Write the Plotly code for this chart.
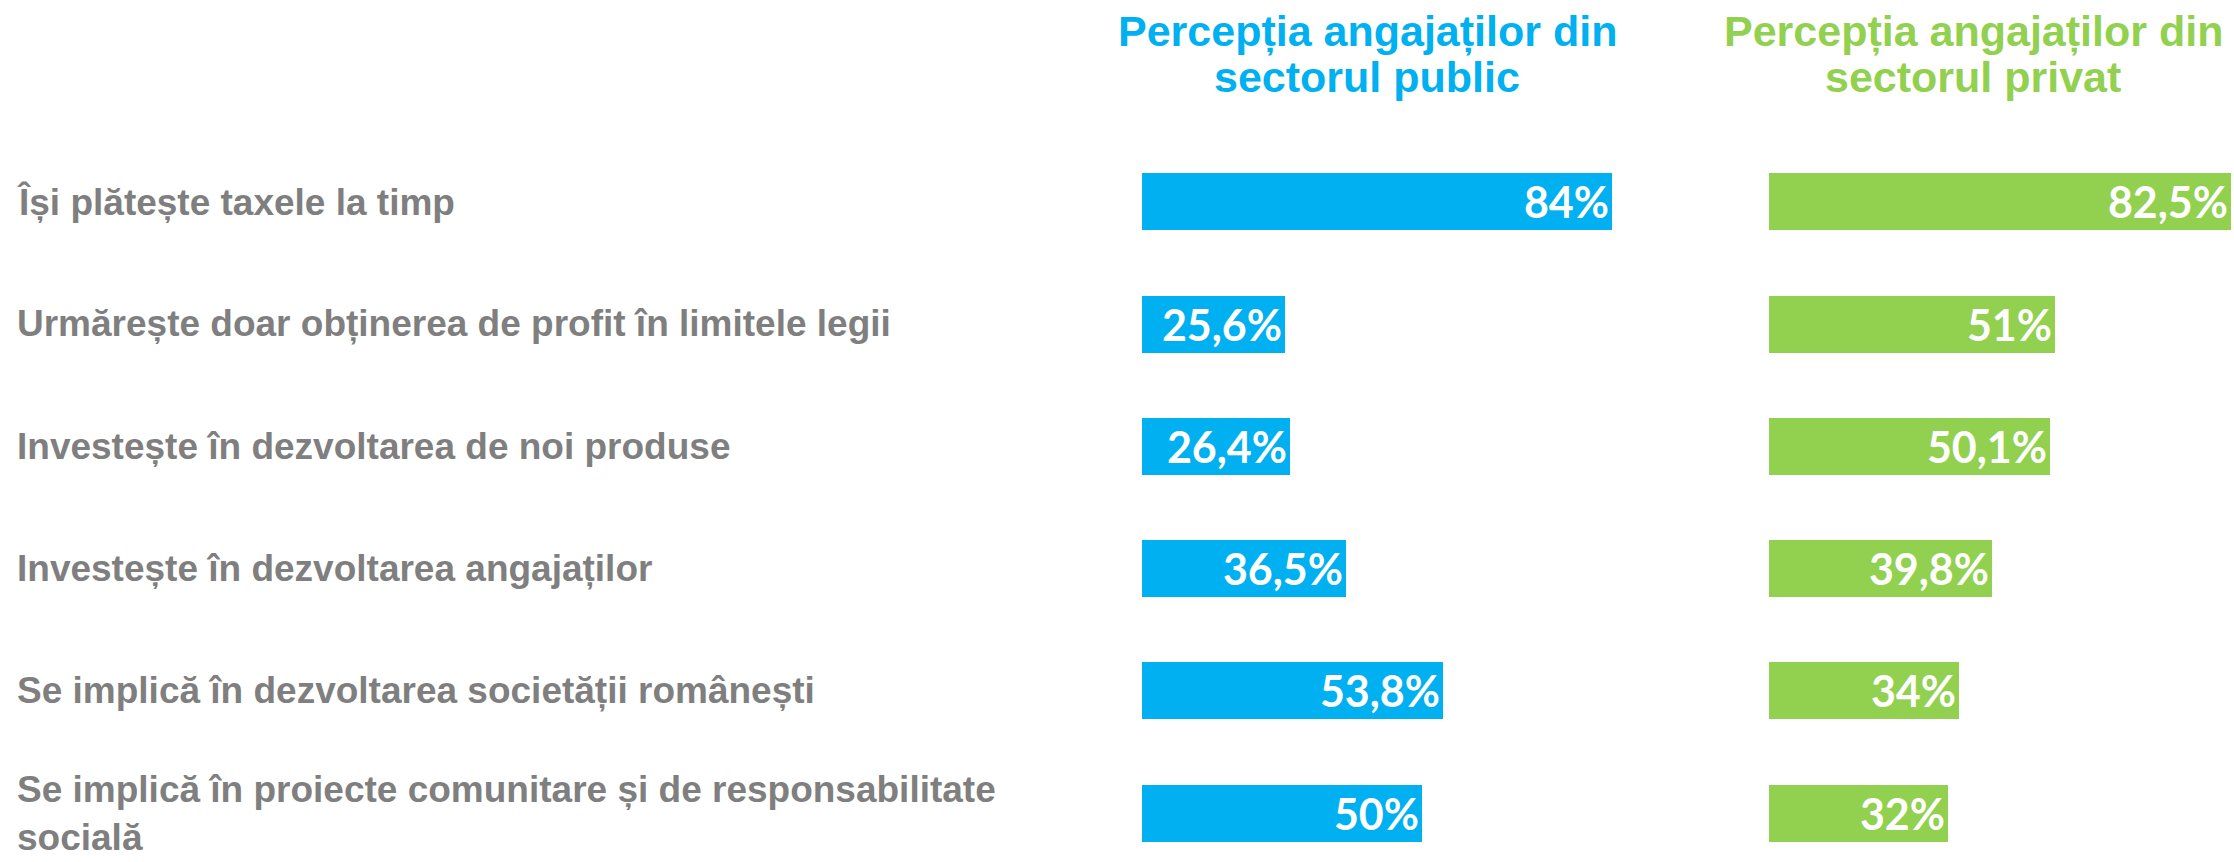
import plotly.graph_objects as go
from plotly.subplots import make_subplots

categories = [
    "Își plătește taxele la timp",
    "Urmărește doar obținerea de profit în limitele legii",
    "Investește în dezvoltarea de noi produse",
    "Investește în dezvoltarea angajaților",
    "Se implică în dezvoltarea societății românești",
    "Se implică în proiecte comunitare și de responsabilitate<br>socială",
]
public_values = [84, 25.6, 26.4, 36.5, 53.8, 50]
private_values = [82.5, 51, 50.1, 39.8, 34, 32]
public_title = ["Percepția angajaților din", "sectorul public"]
private_title = ["Percepția angajaților din", "sectorul privat"]

BLUE = "#00B0F0"
GREEN = "#92D050"
GREY = "#7F7F7F"
W, H = 2234, 862


def fmt(v):
    s = ("%g" % v).replace(".", ",")
    return s + "%"


fig = make_subplots(rows=1, cols=2, shared_yaxes=True)

label_font = dict(family="Lato, 'Open Sans', sans-serif", size=43, color="white", weight=700)

fig.add_trace(go.Bar(
    y=categories, x=public_values, orientation="h",
    marker=dict(color=BLUE, line=dict(width=0)),
    width=0.466,
    text=[fmt(v) for v in public_values],
    textposition="inside", insidetextanchor="end", constraintext="none",
    textfont=label_font, hoverinfo="skip", showlegend=False,
), row=1, col=1)

fig.add_trace(go.Bar(
    y=categories, x=private_values, orientation="h",
    marker=dict(color=GREEN, line=dict(width=0)),
    width=0.466,
    text=[fmt(v) for v in private_values],
    textposition="inside", insidetextanchor="end", constraintext="none",
    textfont=label_font, hoverinfo="skip", showlegend=False,
), row=1, col=2)

axis_hidden = dict(showgrid=False, zeroline=False, showticklabels=False,
                   showline=False, ticks="")

fig.update_xaxes(axis_hidden)
fig.update_yaxes(axis_hidden)
fig.update_xaxes(domain=[1142 / W, 1702 / W], range=[0, 100], row=1, col=1)
fig.update_xaxes(domain=[1769 / W, 1.0], range=[0, 83], row=1, col=2)
fig.update_yaxes(type="category", categoryorder="array", categoryarray=categories,
                 range=[5.40, -1.65], domain=[0, 1])

annotations = []
# category labels
for c in categories:
    annotations.append(dict(
        x=15 / W, xref="paper", xanchor="left",
        y=c, yref="y", yanchor="middle",
        text=c, showarrow=False, align="left",
        font=dict(family="'Liberation Sans', Arial, sans-serif", size=37,
                  color=GREY, weight=700),
    ))

# column titles
title_font = dict(family="'Liberation Sans', Arial, sans-serif", size=43, weight=700)
for title, color, cx in [(public_title, BLUE, 1367), (private_title, GREEN, 1973)]:
    for i, line in enumerate(title):
        annotations.append(dict(
            x=cx / W, xref="paper", xanchor="center",
            y=1 - (31 + 46 * i) / H, yref="paper", yanchor="middle",
            text=line, showarrow=False,
            font=dict(title_font, color=color),
        ))

fig.update_layout(
    width=W, height=H,
    margin=dict(l=0, r=0, t=0, b=0),
    paper_bgcolor="white", plot_bgcolor="white",
    annotations=annotations,
    bargap=0,
)

fig.write_html(
    "out.html",
    config={"displayModeBar": False},
    post_script="document.body.style.margin='0';document.body.style.overflow='hidden';",
)
